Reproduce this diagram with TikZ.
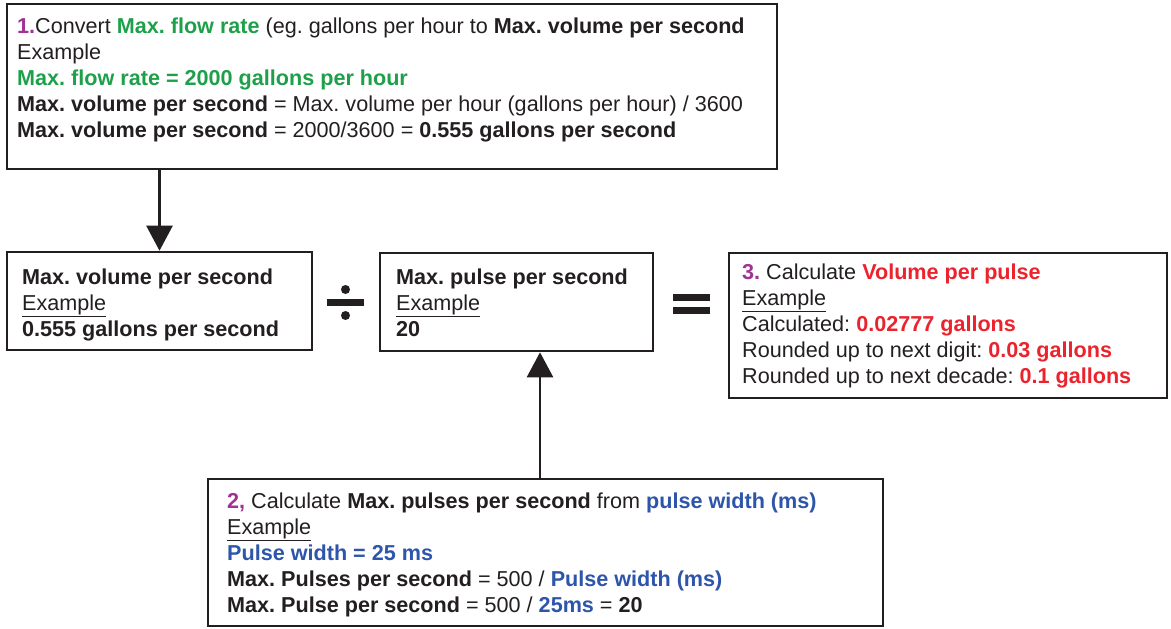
\documentclass[tikz,border=0pt]{standalone}
\usepackage{fontspec}
\setmainfont{Liberation Sans}
\usetikzlibrary{arrows.meta}
\definecolor{txt}{RGB}{35,31,32}
\definecolor{cpurple}{RGB}{160,50,150}
\definecolor{cgreen}{RGB}{30,160,75}
\definecolor{cred}{RGB}{235,35,45}
\definecolor{cblue}{RGB}{45,85,170}
\frenchspacing
\begin{document}
\begin{tikzpicture}[x=1pt,y=-1pt,
  box/.style={draw=txt, line width=2.6pt, rectangle, inner sep=0pt},
  txtnode/.style={anchor=north west, align=left, inner sep=0pt, text=txt, font=\fontsize{21.6}{26}\selectfont},
  arr/.style={draw=txt, line width=2.6pt, -{Triangle[width=26pt,length=25pt]}}]
\useasboundingbox (0,0) rectangle (1171,629);

\node[box, minimum width=770pt, minimum height=165pt] (b1) at (392,86.5) {};
\node[box, minimum width=305pt, minimum height=98pt] (bA) at (159.5,301) {};
\node[box, minimum width=273pt, minimum height=98pt] (bB) at (516.5,302) {};
\node[box, minimum width=438pt, minimum height=145pt] (bC) at (948,325.5) {};
\node[box, minimum width=675pt, minimum height=147pt] (b2) at (545.5,552.5) {};

\node[txtnode] (t1) at (17,17.5) {{\color{cpurple}\textbf{1.}}Convert {\color{cgreen}\textbf{Max. flow rate}} (eg. gallons per hour to \textbf{Max. volume per second}\\
Example\\
{\color{cgreen}\textbf{Max. flow rate = 2000 gallons per hour}}\\
\textbf{Max. volume per second} = Max. volume per hour (gallons per hour) / 3600\\
\textbf{Max. volume per second} = 2000/3600 = \textbf{0.555 gallons per second}};

\node[txtnode] (tA) at (22,268.5) {\textbf{Max. volume per second}\\ \underline{Example}\\ \textbf{0.555 gallons per second}};
\node[txtnode] (tB) at (396,268.5) {\textbf{Max. pulse per second}\\ \underline{Example}\\ \textbf{20}};
\node[txtnode] (tC) at (742,263.5) {{\color{cpurple}\textbf{3.}} Calculate {\color{cred}\textbf{Volume per pulse}}\\ \underline{Example}\\ Calculated: {\color{cred}\textbf{0.02777 gallons}}\\ Rounded up to next digit: {\color{cred}\textbf{0.03 gallons}}\\ Rounded up to next decade: {\color{cred}\textbf{0.1 gallons}}};
\node[txtnode] (t2) at (227,492.5) {{\color{cpurple}\textbf{2,}} Calculate \textbf{Max. pulses per second} from {\color{cblue}\textbf{pulse width (ms)}}\\ \underline{Example}\\ {\color{cblue}\textbf{Pulse width = 25 ms}}\\ \textbf{Max. Pulses per second} = 500 / {\color{cblue}\textbf{Pulse width (ms)}}\\ \textbf{Max. Pulse per second} = 500 / {\color{cblue}\textbf{25ms}} = \textbf{20}};

% connectors
\draw[arr] (b1.south -| bA.north) -- (bA.north);
\coordinate (a2) at (540,0);
\draw[arr] (a2 |- b2.north) -- (a2 |- bB.south);

% division sign
\fill[txt] (327,299) rectangle (364,306);
\fill[txt] (345.5,289.5) circle (4.5pt);
\fill[txt] (345.5,315.5) circle (4.5pt);
% equals sign
\fill[txt] (673,294) rectangle (710,301);
\fill[txt] (673,307) rectangle (710,314);
\end{tikzpicture}
\end{document}
